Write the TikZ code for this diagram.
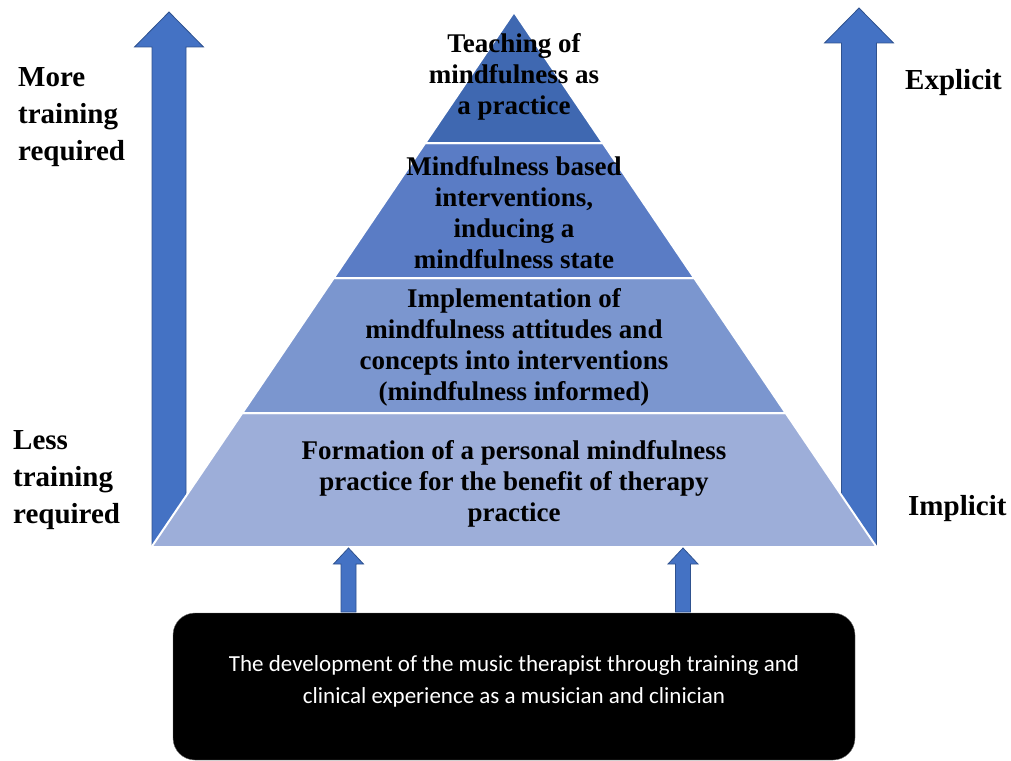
\documentclass[tikz,border=0pt]{standalone}
\usepackage{fontspec}
\setmainfont{Liberation Serif}
\newfontfamily\boxfont{Carlito}
\definecolor{tierA}{HTML}{3F68B1}
\definecolor{tierB}{HTML}{5A7CC5}
\definecolor{tierC}{HTML}{7B96CF}
\definecolor{tierD}{HTML}{9DAED9}
\definecolor{arrowblue}{HTML}{4472C4}
\definecolor{arrowedge}{HTML}{2F528F}
% upward block arrow: centre x, bottom y, tip y, head-base y, shaft half width, head half width
\newcommand\blkarrow[6]{%
  \draw[blockarrow] (#1-#5,#2) -- (#1-#5,#4) -- (#1-#6,#4) -- (#1,#3)
    -- (#1+#6,#4) -- (#1+#5,#4) -- (#1+#5,#2) -- cycle;}
\begin{document}
\begin{tikzpicture}[x=1pt,y=-1pt,
  tier/.style={draw=white,line width=2pt,line join=miter},
  blockarrow/.style={fill=arrowblue,draw=arrowedge,line width=0.8pt,line join=miter},
  tiertext/.style={align=center,font=\bfseries\fontsize{27}{31}\selectfont,inner sep=0pt},
  sidelabel/.style={align=left,font=\bfseries\fontsize{29}{37}\selectfont,inner sep=0pt},
]
\useasboundingbox (0,0) rectangle (1011,760);

% side arrows
\blkarrow{169}{547}{12}{47}{17}{34.5}
\blkarrow{859}{547}{8}{43}{17.5}{34.5}

% pyramid tiers, bottom to top
\fill[tierD,tier] (151.5,547) -- (876.5,547) -- (785.7,413) -- (242.3,413) -- cycle;
\fill[tierC,tier] (242.3,413) -- (785.7,413) -- (694.2,278) -- (333.8,278) -- cycle;
\fill[tierB,tier] (333.8,278) -- (694.2,278) -- (602.8,143) -- (425.2,143) -- cycle;
\fill[tierA,tier] (425.2,143) -- (602.8,143) -- (514,12) -- cycle;

\node[tiertext] (t1) at (514,77) {Teaching of\\mindfulness as\\a practice};
\node[tiertext] (t2) at (514,213) {Mindfulness based\\interventions,\\inducing a\\mindfulness state};
\node[tiertext] (t3) at (514,347) {Implementation of\\mindfulness attitudes and\\concepts into interventions\\(mindfulness informed)};
\node[tiertext] (t4) at (514,484) {Formation of a personal mindfulness\\practice for the benefit of therapy\\practice};

% side labels
\node[sidelabel,anchor=west] (more) at (18,117) {More\\training\\required};
\node[sidelabel,anchor=west] (less) at (13,480) {Less\\training\\required};
\node[sidelabel,anchor=west] (explicit) at (905,83) {Explicit};
\node[sidelabel,anchor=west] (implicit) at (908,508.5) {Implicit};

% foundation box
\node[draw=black!55,fill=black,rounded corners=22pt,minimum width=682pt,
      minimum height=147pt,inner sep=0pt] (devbox) at (514,686.5) {};
\node[text=white,align=center,font=\boxfont\fontsize{23}{32}\selectfont] (devtext) at (514,681)
  {The development of the music therapist through training and\\clinical experience as a musician and clinician};

% arrows from the box up into the base tier
\blkarrow{348.5}{612}{548}{564}{7.5}{15}
\blkarrow{683}{612}{548}{564}{7.5}{15}
\end{tikzpicture}
\end{document}
